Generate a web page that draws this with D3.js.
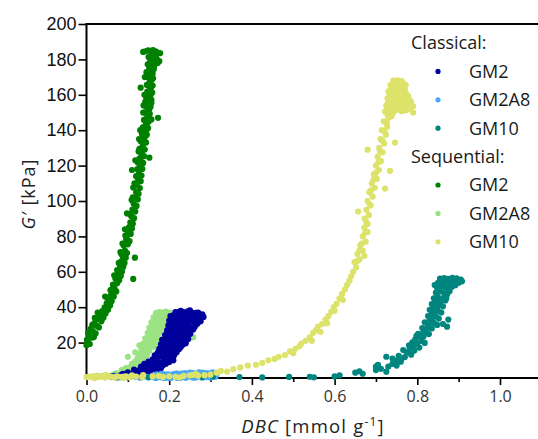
<!DOCTYPE html>
<html><head><meta charset="utf-8">
<script src="https://cdn.jsdelivr.net/npm/d3@7"></script>
<style>body{margin:0;background:#fff}svg{display:block}</style>
</head><body><svg id="c" width="538" height="439"></svg>
<script>
const xTicksMajor = [0, 0.2, 0.4, 0.6, 0.8, 1.0];
const xTicksMinor = [0.1, 0.3, 0.5, 0.7, 0.9];
const yTicks = [20, 40, 60, 80, 100, 120, 140, 160, 180, 200];
const groupTitles = ["Classical:", "Sequential:"];
const seriesNames = ["GM2", "GM2A8", "GM10"];

const classicalGM2 = [[0.060,0.8],[0.068,1.2],[0.075,0.6],[0.082,1.5],[0.090,0.9],[0.097,1.8],[0.104,1.1],[0.111,2.2],[0.118,1.4],[0.124,2.8],[0.130,1.9],[0.136,3.4],[0.142,2.5],[0.148,4.0],[0.153,3.0],[0.120,3.6],[0.128,4.5],[0.138,5.2],[0.146,6.0],[0.155,5.0],[0.160,6.8],[0.150,7.5],[0.158,8.4],[0.166,7.6],[0.140,8.0],[0.21,10],[0.18,5.5],[0.17,4.2],
[0.163,9.5],[0.172,9.0],[0.180,8.5],[0.188,9.8],[0.195,10.5],[0.170,11.5],[0.178,12.0],[0.186,11.8],[0.194,12.6],[0.200,11.5],[0.165,12.8],[0.172,14.2],[0.181,14.8],[0.190,15.0],[0.198,14.3],[0.206,13.7],[0.176,16.5],[0.185,17.1],[0.193,17.4],[0.201,16.8],[0.209,16.2],[0.215,15.5],[0.180,19.0],[0.188,19.6],[0.197,19.9],[0.205,19.3],[0.213,18.8],[0.221,18.0],[0.228,17.5],[0.183,21.5],[0.192,22.1],[0.200,22.4],[0.208,22.0],[0.216,21.4],[0.224,20.8],[0.232,20.2],[0.240,19.6],[0.190,24.2],[0.198,24.8],[0.206,25.1],[0.214,24.6],[0.222,24.0],[0.230,23.3],[0.238,22.8],[0.246,22.0],[0.195,27.0],[0.203,27.5],[0.211,27.8],[0.219,27.2],[0.227,26.6],[0.235,26.0],[0.243,25.4],[0.251,25.0],[0.198,29.8],[0.206,30.3],[0.214,30.6],[0.222,30.1],[0.230,29.5],[0.238,29.0],[0.246,28.6],[0.254,28.2],[0.262,29.0],[0.200,32.5],[0.208,33.0],[0.216,33.3],[0.224,32.8],[0.232,32.3],[0.240,31.9],[0.248,31.5],[0.256,31.8],[0.264,32.2],[0.272,33.0],[0.203,35.0],[0.211,35.6],[0.219,36.0],[0.227,35.5],[0.235,35.8],[0.243,36.2],[0.251,35.6],[0.259,36.0],[0.267,35.3],[0.275,34.8],[0.283,34.5],[0.215,37.2],[0.225,37.5],[0.235,37.3],[0.245,37.6],[0.255,37.0],[0.265,36.8],
[0.145,3.2],[0.157,4.6],[0.165,5.8],[0.175,6.6],[0.185,7.2],[0.192,8.0],[0.200,9.0],[0.205,11.2],[0.212,12.8],[0.218,14.6],[0.224,16.4],[0.232,18.6],[0.238,21.0],[0.244,23.6],[0.250,26.4],[0.258,27.4],[0.268,30.6],[0.276,32.0],[0.280,36.0],[0.270,37.0],[0.250,34.0],[0.228,34.0],[0.212,31.8],[0.204,28.8],[0.196,26.0],[0.190,21.0],[0.186,18.2],[0.178,15.8],[0.170,13.0],[0.160,10.6],[0.150,9.2],[0.132,6.5],[0.115,4.8],[0.100,3.2],[0.088,2.4],[0.220,29.0],[0.234,31.0],[0.242,34.0],[0.260,33.8],[0.228,38.0],[0.250,38.2]];

const classicalGM2A8 = [[0.060,0.5],[0.070,1.0],[0.080,0.3],[0.090,0.8],[0.100,0.4],[0.110,1.1],[0.120,0.6],[0.130,0.2],[0.140,0.9],[0.150,0.5],[0.160,1.2],[0.165,0.3],[0.170,0.8],[0.175,1.6],[0.180,0.4],[0.185,1.1],[0.190,2.0],[0.195,0.6],[0.200,1.4],[0.205,0.2],[0.210,2.2],[0.215,0.9],[0.220,1.7],[0.225,0.4],[0.230,2.5],[0.235,1.2],[0.240,0.1],[0.245,2.0],[0.250,0.8],[0.255,2.8],[0.260,1.5],[0.265,0.3],[0.270,2.3],[0.275,1.0],[0.280,3.0],[0.285,1.8],[0.290,0.5],[0.295,2.6],[0.300,1.3],[0.305,3.2],[0.310,2.0],[0.312,0.7],[0.200,0.0],[0.220,0.0],[0.240,1.8],[0.260,2.6],[0.280,0.2],[0.300,0.2],[0.190,0.2],[0.170,2.0],[0.250,3.0],[0.230,1.0],
[0.168,0.0],[0.178,1.0],[0.188,0.0],[0.198,2.1],[0.208,1.0],[0.218,2.6],[0.228,0.1],[0.238,2.8],[0.248,1.2],[0.258,0.2],[0.268,1.2],[0.278,2.0],[0.288,2.8],[0.298,0.8],[0.308,1.0],[0.315,2.4],[0.292,1.4],[0.272,3.2],[0.252,2.0],[0.232,1.8],[0.212,1.6],[0.192,1.2],[0.182,2.4],[0.162,0.5]];

const classicalGM10 = [[0.045,0.5],[0.072,0.3],[0.100,0.8],[0.150,0.4],[0.280,0.6],[0.306,0.8],[0.370,0.5],[0.425,0.3],[0.490,0.6],[0.540,0.7],[0.550,0.4],[0.600,0.9],[0.612,1.5],[0.650,3.0],[0.660,3.8],[0.668,2.4],[0.700,4.5],[0.700,6.5],[0.705,7.5],[0.725,12.0],[0.740,11.0],[0.712,5.2],[0.725,3.6],[0.730,6.5],[0.740,8.0],[0.750,7.0],[0.752,10.0],[0.760,9.2],[0.755,12.5],[0.770,11.8],[0.775,14.5],[0.785,13.2],[0.782,16.5],[0.790,18.0],[0.793,15.5],[0.800,19.5],[0.805,17.2],[0.795,21.8],[0.810,21.0],[0.815,23.5],[0.802,25.0],[0.820,26.0],[0.828,24.8],[0.812,28.2],[0.825,29.0],[0.835,28.0],[0.818,31.5],[0.830,32.6],[0.840,31.2],[0.848,30.0],[0.826,35.0],[0.836,36.0],[0.845,34.8],[0.852,33.6],[0.830,38.5],[0.840,39.2],[0.850,38.0],[0.858,37.0],[0.835,41.8],[0.845,42.6],[0.855,41.4],[0.862,40.5],[0.840,45.0],[0.850,45.8],[0.860,44.6],[0.868,43.8],[0.845,48.2],[0.855,49.0],[0.865,48.0],[0.872,47.2],[0.848,51.0],[0.858,51.8],[0.868,51.0],[0.876,50.4],[0.884,51.6],[0.850,53.8],[0.860,54.6],[0.870,54.0],[0.880,54.8],[0.890,54.2],[0.898,55.0],[0.855,56.2],[0.865,56.5],[0.875,56.0],[0.885,56.6],[0.895,56.3],[0.905,55.6],[0.870,45.0],[0.862,30.5],[0.872,29.0],[0.875,33.0],
[0.842,52.5],[0.852,50.2],[0.862,52.8],[0.872,52.6],[0.882,53.2],[0.892,52.4],[0.900,53.8],[0.908,54.6],[0.878,49.0],[0.866,46.2],[0.856,43.4],[0.848,40.6],[0.842,37.6],[0.836,33.4],[0.828,30.6],[0.822,27.4],[0.814,25.4],[0.808,23.0],[0.818,19.8],[0.798,23.8],[0.788,20.2],[0.780,18.4],[0.766,15.8],[0.762,11.0],[0.745,9.4]];

const sequentialGM2 = [[0.000,18.5],[0.003,20.1],[0.008,19.2],[0.001,21.5],[0.012,22.8],[0.006,24.0],[0.018,23.1],[0.015,26.5],[0.022,25.2],[0.010,27.8],[0.025,29.4],[0.019,31.0],[0.030,28.6],[0.028,33.2],[0.036,32.0],[0.033,35.5],[0.041,34.1],[0.038,37.8],[0.046,36.4],[0.044,39.9],[0.052,38.6],[0.049,42.3],[0.057,41.0],[0.055,44.8],[0.061,43.5],[0.045,46.0],[0.060,47.2],[0.066,46.1],[0.058,49.6],[0.068,50.3],[0.072,48.9],[0.064,52.8],[0.074,53.5],[0.070,56.1],[0.079,55.2],[0.076,58.4],[0.083,57.6],[0.074,61.0],[0.086,60.2],[0.081,63.5],[0.089,62.8],[0.085,66.1],[0.092,65.0],[0.088,68.7],[0.095,67.9],[0.082,71.2],[0.093,72.0],[0.098,70.6],[0.090,74.8],[0.100,75.5],[0.096,78.1],[0.104,77.3],[0.099,80.6],[0.107,81.4],[0.093,84.0],[0.103,85.2],[0.110,84.5],[0.106,88.0],[0.112,87.2],[0.108,91.5],[0.115,90.3],[0.098,93.0],[0.111,95.1],[0.118,94.0],[0.114,98.4],[0.121,97.2],[0.109,100.5],[0.117,101.8],[0.124,100.9],[0.120,105.0],[0.126,104.1],[0.113,107.6],[0.122,108.8],[0.129,107.3],[0.125,112.0],[0.131,111.2],[0.110,117.5],[0.127,115.5],[0.133,114.4],[0.129,119.0],[0.135,118.1],[0.124,121.7],[0.131,122.6],[0.137,121.5],[0.133,126.2],[0.139,125.3],[0.152,124.5],[0.128,129.5],[0.135,130.4],[0.141,129.1],[0.131,133.8],[0.138,134.6],[0.144,133.0],[0.134,137.9],[0.140,138.8],[0.146,137.4],[0.136,141.6],[0.143,142.7],[0.149,141.2],[0.139,145.8],[0.145,146.5],[0.157,146.1],[0.151,145.0],[0.173,147.0],[0.141,149.9],[0.147,150.6],[0.153,149.3],[0.143,153.7],[0.149,154.8],[0.155,153.2],[0.145,157.9],[0.151,158.6],[0.157,157.1],[0.131,164.0],[0.147,161.8],[0.153,162.7],[0.159,161.3],[0.146,165.6],[0.152,166.8],[0.160,165.2],[0.149,169.9],[0.155,170.6],[0.161,169.3],[0.145,172.8],[0.151,174.0],[0.157,173.4],[0.163,174.6],[0.148,177.2],[0.154,178.5],[0.160,177.8],[0.166,178.9],[0.150,181.3],[0.156,182.0],[0.162,181.6],[0.168,182.4],[0.137,184.2],[0.143,184.6],[0.149,185.1],[0.155,184.8],[0.161,185.3],[0.167,184.5],[0.172,183.9],[0.178,183.5],[0.176,179.0],[0.170,180.2],[0.158,176.0],[0.154,168.0],[0.150,160.0],[0.142,156.0],[0.137,150.0],[0.130,140.0],[0.127,135.0],[0.126,128.0],[0.118,123.0],[0.113,56.0],[0.117,68.0],
[0.004,25.5],[0.014,30.0],[0.020,34.0],[0.027,37.0],[0.050,45.5],[0.063,50.5],[0.067,58.0],[0.078,65.0],[0.084,70.0],[0.087,76.0],[0.094,80.5],[0.101,83.0],[0.105,92.5],[0.112,102.0],[0.116,110.0],[0.120,114.0],[0.123,118.0],[0.128,124.0],[0.134,128.0],[0.137,132.0],[0.141,136.0],[0.145,140.0],[0.147,144.0],[0.150,148.0],[0.152,152.0],[0.157,155.5],[0.155,160.0],[0.156,164.0],[0.158,168.5],[0.160,172.0],[0.152,176.0],[0.164,176.5],[0.159,180.5],[0.172,178.0],[0.165,182.0],[0.141,170.0],[0.140,160.0],[0.138,154.0]];

const sequentialGM2A8 = [[0.015,0.8],[0.025,1.2],[0.035,0.9],[0.045,1.5],[0.055,1.1],[0.065,1.9],[0.072,2.6],[0.080,2.0],[0.088,3.2],[0.095,2.6],[0.100,4.0],[0.108,3.5],[0.085,4.5],[0.095,5.6],[0.105,6.2],[0.113,5.2],[0.120,7.0],[0.110,8.0],[0.118,9.2],[0.126,8.6],[0.134,9.8],[0.123,11.0],[0.131,11.8],[0.139,11.2],[0.146,12.4],[0.128,13.6],[0.136,14.5],[0.144,14.0],[0.152,15.2],[0.133,16.3],[0.141,17.2],[0.149,16.8],[0.157,18.0],[0.165,17.4],[0.138,19.5],[0.146,20.2],[0.154,19.8],[0.162,21.0],[0.170,20.4],[0.142,22.4],[0.150,23.0],[0.158,22.7],[0.166,23.8],[0.174,23.2],[0.148,25.5],[0.156,26.0],[0.164,25.6],[0.172,26.8],[0.180,26.2],[0.152,28.4],[0.160,29.0],[0.168,28.6],[0.176,29.8],[0.184,29.2],[0.157,31.4],[0.165,32.0],[0.173,31.6],[0.181,32.6],[0.189,32.2],[0.162,34.2],[0.170,34.8],[0.178,34.5],[0.186,35.3],[0.194,34.9],[0.168,36.6],[0.176,37.2],[0.184,37.0],[0.192,37.5],[0.200,37.0],[0.245,27.5],[0.252,25.0],[0.258,23.0],[0.240,30.0],[0.248,29.5],[0.235,24.5],[0.118,14.5],[0.128,18.5],[0.100,12.0]];

const sequentialGM10 = [[0.000,0.5],[0.008,0.8],[0.015,0.3],[0.022,1.0],[0.030,0.6],[0.038,0.9],[0.045,0.4],[0.052,1.1],[0.060,0.7],[0.068,0.3],[0.075,1.0],[0.085,0.6],[0.095,0.9],[0.105,0.4],[0.120,0.8],[0.135,0.5],[0.137,1.7],[0.160,0.9],[0.185,0.6],[0.200,1.0],[0.215,0.7],[0.235,1.2],[0.250,1.5],[0.258,1.8],[0.270,1.3],[0.285,1.6],[0.300,1.9],[0.315,3.0],[0.325,4.0],[0.340,3.6],[0.355,5.0],[0.372,6.0],[0.390,7.0],[0.410,7.5],[0.425,8.5],[0.440,10.0],[0.455,10.8],[0.465,12.0],[0.480,13.0],[0.492,15.0],[0.505,16.5],[0.515,18.0],[0.520,19.5],[0.530,21.0],[0.540,23.0],[0.548,25.5],[0.555,27.0],[0.560,29.0],[0.570,30.5],[0.578,33.0],[0.585,35.0],[0.592,37.5],[0.598,40.0],[0.605,42.0],[0.612,45.0],[0.618,47.5],[0.625,50.0],[0.630,52.5],[0.636,55.0],[0.640,57.5],[0.645,60.0],[0.652,62.5],[0.648,65.5],[0.660,67.0],[0.655,70.0],[0.668,72.0],[0.672,69.0],[0.662,75.0],[0.675,77.0],[0.668,80.0],[0.680,82.5],[0.672,85.0],[0.680,87.0],[0.673,90.0],[0.683,92.0],[0.677,95.0],[0.687,97.5],[0.680,100.0],[0.692,102.5],[0.684,105.0],[0.697,107.5],[0.690,110.0],[0.702,112.5],[0.695,115.0],[0.707,117.5],[0.700,120.0],[0.712,122.5],[0.704,125.0],[0.716,127.5],[0.708,130.0],[0.720,132.5],[0.711,135.0],[0.724,137.5],[0.714,140.0],[0.727,142.0],[0.719,145.0],[0.731,147.0],[0.680,129.0],[0.722,107.0],[0.657,94.0],[0.734,117.0],[0.746,133.0],[0.790,150.0],
[0.722,150.5],[0.732,151.0],[0.742,150.2],[0.752,151.5],[0.762,150.8],[0.772,151.2],[0.782,152.0],[0.790,153.5],[0.725,154.0],[0.735,155.0],[0.745,154.3],[0.755,155.6],[0.765,154.9],[0.775,155.4],[0.785,156.2],[0.728,158.0],[0.738,158.8],[0.748,158.2],[0.758,159.4],[0.768,158.7],[0.778,159.2],[0.730,162.0],[0.740,162.8],[0.750,162.2],[0.760,163.4],[0.770,162.7],[0.735,165.5],[0.745,166.5],[0.755,166.0],[0.765,166.8],[0.772,165.5],
[0.727,152.6],[0.737,153.0],[0.747,152.4],[0.757,153.4],[0.767,152.8],[0.777,153.6],[0.730,156.6],[0.740,157.0],[0.750,156.4],[0.760,157.4],[0.770,156.8],[0.780,157.4],[0.733,160.2],[0.743,160.8],[0.753,160.4],[0.763,161.2],[0.773,160.6],[0.738,164.0],[0.748,164.6],[0.758,164.2],[0.768,164.8],[0.742,168.0],[0.752,168.2],[0.762,167.8],[0.728,148.6],[0.738,148.0],[0.726,144.0],[0.720,139.5],[0.716,134.0],[0.710,128.0],[0.706,122.0],[0.700,116.0],[0.694,112.0],[0.688,106.0],[0.685,98.0],[0.677,88.0],[0.674,82.0],[0.666,76.0],[0.660,72.0],[0.654,66.0],[0.620,44.0],[0.600,38.0],[0.582,31.0],[0.566,26.0],[0.545,21.0],[0.500,14.0],[0.020,0.0],[0.048,1.6],[0.090,0.0],[0.110,1.5],[0.175,1.2],[0.225,0.3],[0.265,2.2]];

const colors = {
  cGM2: "#00009c", cGM2A8: "#4aa8f5", cGM10: "#00857f",
  sGM2: "#008000", sGM2A8: "#9be283", sGM10: "#dde36a"
};

const svg = d3.select("#c");
const W = 538, H = 439;
const x = d3.scaleLinear().domain([0, 1.1]).range([86.5, 86.5 + 1.1 * 413.5]);
const y = d3.scaleLinear().domain([0, 200]).range([378, 24]);

// frame lines (under points)
svg.append("line").attr("x1", x(0)).attr("x2", W).attr("y1", y(0)).attr("y2", y(0)).attr("stroke", "#000").attr("stroke-width", 2);
svg.append("line").attr("x1", x(0)).attr("x2", W).attr("y1", y(200)).attr("y2", y(200)).attr("stroke", "#000").attr("stroke-width", 2);
svg.append("line").attr("x1", x(0)).attr("x2", x(0)).attr("y1", y(200) - 1).attr("y2", y(0) + 1).attr("stroke", "#000").attr("stroke-width", 2);

// axes
const xAxis = svg.append("g").attr("transform", `translate(0,${y(0)})`)
  .call(d3.axisBottom(x).tickValues(xTicksMajor).tickFormat(d3.format(".1f")).tickSize(7).tickPadding(6));
xAxis.select(".domain").remove();
xAxis.selectAll("line").attr("stroke", "#000").attr("stroke-width", 1.6);
xAxis.selectAll("text").attr("font-family", "'Open Sans', sans-serif").attr("font-size", 16).attr("fill", "#333");
const xMinor = svg.append("g").attr("transform", `translate(0,${y(0)})`)
  .call(d3.axisBottom(x).tickValues(xTicksMinor).tickFormat("").tickSize(4));
xMinor.select(".domain").remove();
xMinor.selectAll("line").attr("stroke", "#000").attr("stroke-width", 1.6);

const yAxis = svg.append("g").attr("transform", `translate(${x(0)},0)`)
  .call(d3.axisLeft(y).tickValues(yTicks).tickSize(8).tickPadding(2));
yAxis.select(".domain").remove();
yAxis.selectAll("line").attr("stroke", "#000").attr("stroke-width", 1.6);
yAxis.selectAll("text").attr("font-family", "'Liberation Sans', Arial, sans-serif").attr("font-size", 18).attr("fill", "#111");

// draw order
const drawOrder = [
  [sequentialGM2A8, colors.sGM2A8],
  [classicalGM2, colors.cGM2],
  [classicalGM2A8, colors.cGM2A8],
  [classicalGM10, colors.cGM10],
  [sequentialGM10, colors.sGM10],
  [sequentialGM2, colors.sGM2]
];
const pts = svg.append("g");
drawOrder.forEach(([data, col]) => {
  pts.append("g").selectAll("circle").data(data).join("circle")
    .attr("cx", d => x(d[0])).attr("cy", d => y(d[1])).attr("r", 3.1)
    .attr("fill", col);
});

// axis titles
const xt = svg.append("text").attr("x", 313).attr("y", 433).attr("text-anchor", "middle")
  .attr("font-family", "'Open Sans', sans-serif").attr("font-size", 18.5).attr("letter-spacing", 1.2).attr("fill", "#222");
xt.append("tspan").attr("font-style", "italic").text("DBC");
xt.append("tspan").text(" [mmol g");
xt.append("tspan").attr("font-size", 12).attr("dy", -7).text("-1");
xt.append("tspan").attr("dy", 7).text("]");

const yt = svg.append("text").attr("transform", "translate(35,194) rotate(-90)").attr("text-anchor", "middle")
  .attr("font-family", "'Open Sans', sans-serif").attr("font-size", 18).attr("letter-spacing", 1).attr("fill", "#222");
yt.append("tspan").attr("font-style", "italic").text("G′");
yt.append("tspan").text(" [kPa]");

// legend
const legend = svg.append("g").attr("font-family", "'Open Sans', sans-serif").attr("font-size", 18).attr("fill", "#1a1a1a");
const legendRows = [
  {t: groupTitles[0]},
  {t: seriesNames[0], c: colors.cGM2},
  {t: seriesNames[1], c: colors.cGM2A8},
  {t: seriesNames[2], c: colors.cGM10},
  {t: groupTitles[1]},
  {t: seriesNames[0], c: colors.sGM2},
  {t: seriesNames[1], c: colors.sGM2A8},
  {t: seriesNames[2], c: colors.sGM10}
];
legendRows.forEach((r, i) => {
  const cy = 43 + i * 28.4;
  if (r.c) {
    legend.append("circle").attr("cx", 438).attr("cy", cy).attr("r", 2.6).attr("fill", r.c);
    legend.append("text").attr("x", 469).attr("y", cy).attr("dy", "0.35em").text(r.t);
  } else {
    legend.append("text").attr("x", 411).attr("y", cy).attr("dy", "0.35em").text(r.t);
  }
});
</script></body></html>
